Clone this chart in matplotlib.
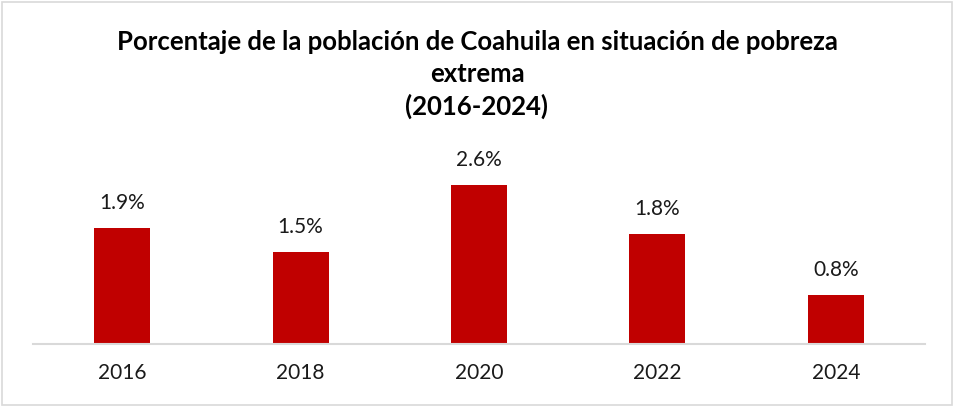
import matplotlib.pyplot as plt

# Datos: porcentaje de la población en pobreza extrema
years = ["2016", "2018", "2020", "2022", "2024"]
values = [1.9, 1.5, 2.6, 1.8, 0.8]
labels = ["1.9%", "1.5%", "2.6%", "1.8%", "0.8%"]

plt.rcParams['font.family'] = ['Lato', 'DejaVu Sans']

fig = plt.figure(figsize=(9.54, 4.07), dpi=100)
ax = fig.add_axes([0.0346, 0.155, 0.935, 0.465])

x = range(len(years))
bars = ax.bar(x, values, width=0.314, color='#C00000')

for b, lab in zip(bars, labels):
    ax.annotate(lab, (b.get_x() + b.get_width() / 2, b.get_height()),
                xytext=(0, 18), textcoords='offset points',
                ha='center', va='center', fontsize=15, color='#1a1a1a')

ax.set_xlim(-0.5, 4.5)
ax.set_ylim(0, 3.1)
ax.set_xticks(list(x))
ax.set_xticklabels(years, fontsize=15, color='#1a1a1a')
ax.tick_params(axis='x', length=0, pad=14)
ax.set_yticks([])
for s in ['top', 'right', 'left']:
    ax.spines[s].set_visible(False)
ax.spines['bottom'].set_color('#D9D9D9')
ax.spines['bottom'].set_linewidth(1.5)

title_size = 18.5
fig.text(0.5, 1 - 42 / 407, "Porcentaje de la población de Coahuila en situación de pobreza",
         ha='center', va='center', fontsize=title_size, fontweight='bold')
fig.text(0.5, 1 - 74 / 407, "extrema", ha='center', va='center',
         fontsize=title_size, fontweight='bold')
fig.text(0.5, 1 - 106 / 407, "(2016-2024)", ha='center', va='center',
         fontsize=title_size, fontweight='bold')

# Borde del gráfico
border = plt.Rectangle((0.002, 0.004), 0.996, 0.992, transform=fig.transFigure,
                       fill=False, edgecolor='#D9D9D9', linewidth=1.2)
fig.patches.append(border)

fig.savefig("out.png", dpi=100)
